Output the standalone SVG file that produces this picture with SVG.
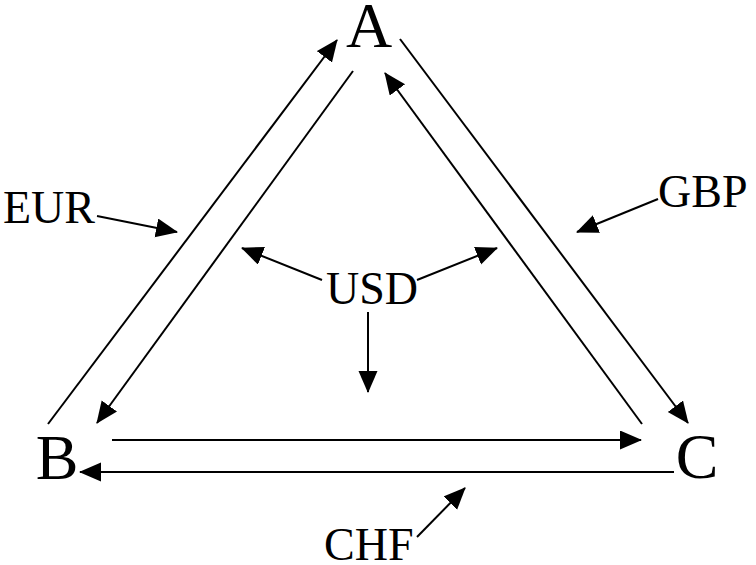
<svg xmlns="http://www.w3.org/2000/svg" width="756" height="565" viewBox="0 0 756 565">
<style>
  text { font-family: 'Liberation Serif', serif; fill: #000; }
  .node { font-size: 64px; text-anchor: middle; }
  .cur { font-size: 46px; }
  .ln { stroke: #000; stroke-width: 2; fill: none; }
</style>
<defs>
  <marker id="ah" markerUnits="userSpaceOnUse" markerWidth="24" markerHeight="20" refX="21" refY="9.5" orient="auto">
    <path d="M0,0 L22,9.5 L0,19 z" fill="#000"/>
  </marker>
</defs>
<rect width="756" height="565" fill="#fff"/>
<g id="node-A"><text class="node" x="369" y="47">A</text></g>
<g id="node-B"><text class="node" x="57" y="479">B</text></g>
<g id="node-C"><text class="node" x="697" y="478">C</text></g>
<g id="label-USD"><text class="cur" x="372" y="304" text-anchor="middle">USD</text></g>
<g id="label-EUR"><text class="cur" x="3" y="223">EUR</text></g>
<g id="label-GBP"><text class="cur" x="658" y="207">GBP</text></g>
<g id="label-CHF"><text class="cur" x="324" y="560">CHF</text></g>
<g id="connectors">
  <line class="ln" x1="48" y1="424" x2="337" y2="40" marker-end="url(#ah)"/>
  <line class="ln" x1="353" y1="71" x2="97" y2="423" marker-end="url(#ah)"/>
  <line class="ln" x1="642" y1="424" x2="385" y2="73" marker-end="url(#ah)"/>
  <line class="ln" x1="400" y1="39" x2="688" y2="423" marker-end="url(#ah)"/>
  <line class="ln" x1="112" y1="440" x2="641" y2="440" marker-end="url(#ah)"/>
  <line class="ln" x1="674" y1="472" x2="80" y2="472" marker-end="url(#ah)"/>
  <line class="ln" x1="97" y1="216" x2="177" y2="232" marker-end="url(#ah)"/>
  <line class="ln" x1="658" y1="199" x2="577" y2="232" marker-end="url(#ah)"/>
  <line class="ln" x1="322" y1="280" x2="242" y2="248" marker-end="url(#ah)"/>
  <line class="ln" x1="417" y1="280" x2="497" y2="248" marker-end="url(#ah)"/>
  <line class="ln" x1="368" y1="312" x2="368" y2="392" marker-end="url(#ah)"/>
  <line class="ln" x1="417" y1="537" x2="465" y2="488" marker-end="url(#ah)"/>
</g>
</svg>
